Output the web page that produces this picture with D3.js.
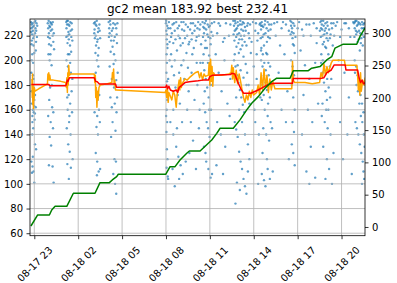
<html>
<head>
<meta charset="utf-8">
<script src="https://d3js.org/d3.v7.min.js"></script>
<style>
  body { margin: 0; background: #fff; }
  text { font-family: "DejaVu Sans", sans-serif; }
</style>
</head>
<body>
<svg id="chart"></svg>
<script>
// hours counted from 08-17 00:00
const xRangeHours = [22.706, 45.604];
const xTickHours = [23, 26, 29, 32, 35, 38, 41, 44];
const leftTicks = [60, 80, 100, 120, 140, 160, 180, 200, 220];
const rightTicks = [0, 50, 100, 150, 200, 250, 300];
const titleText = "gc2 mean 183.92 best 232.41";

// individual scores [hour, score]
const scores = [
  [22.78,231],[22.80,226],[22.82,229],[22.85,221],[22.83,216],[22.88,230],[22.90,224],[22.93,218],[22.95,212],[22.98,228],[23.02,231],[23.05,222],[23.08,226],[23.12,215],[23.15,230],[23.18,219],[22.86,205],[22.92,198],[23.0,206],[23.1,208],[22.8,190],[22.95,185],[23.05,172],[22.84,165],[22.9,160],[22.87,155],[22.96,158],[23.02,152],[23.1,162],[22.82,175],[23.0,168],[22.93,145],[22.86,140],[23.05,132],[22.9,122],[22.8,118],[22.95,110],[22.88,114],[23.0,101],[22.84,109],[23.12,128],
  [22.79,223],[22.81,213],[22.89,227],[22.97,220],[23.07,232],[23.13,224],[23.2,228],[22.83,200],[22.91,188],[22.99,163],[23.04,157],[22.87,150],[22.94,170],
  [23.92,230],[23.95,226],[23.98,232],[24.0,222],[24.03,228],[24.06,218],[24.1,231],[24.12,224],[24.15,212],[24.2,229],[24.25,220],[24.3,215],[24.35,209],[23.97,205],[24.05,200],[24.18,196],[24.08,178],[24.02,168],[24.22,162],[23.95,155],[24.12,150],[24.28,145],[24.05,138],[24.15,131],[24.0,115],[24.25,114],[24.32,101],
  [23.94,219],[24.01,213],[24.08,227],[24.14,230],[24.22,225],[24.27,231],[24.33,222],[24.1,205],[24.2,180],[24.3,158],
  [25.18,231],[25.2,226],[25.24,229],[25.28,220],[25.3,232],[25.33,223],[25.36,217],[25.4,228],[25.44,212],[25.48,224],[25.52,207],[25.55,230],[25.6,216],[25.2,200],[25.3,195],[25.4,205],[25.5,190],[25.25,185],[25.35,172],[25.45,165],[25.28,160],[25.58,158],[25.38,150],[25.22,145],[25.48,140],[25.32,132],[25.42,126],[25.26,116],[25.5,113],[25.36,104],[25.62,120],[25.55,175],
  [25.19,219],[25.23,232],[25.27,214],[25.34,229],[25.39,221],[25.46,231],[25.53,219],[25.58,225],[25.3,205],[25.45,198],[25.6,185],[25.25,170],[25.4,155],
  [27.08,230],[27.12,225],[27.15,231],[27.2,220],[27.25,228],[27.3,215],[27.35,223],[27.4,210],[27.45,229],[27.5,218],[27.18,206],[27.28,200],[27.38,195],[27.15,185],[27.22,176],[27.32,168],[27.42,160],[27.12,158],[27.48,150],[27.25,146],[27.35,140],[27.2,125],[27.3,118],[27.4,110],[27.28,107],[27.5,112],
  [27.1,222],[27.14,218],[27.19,229],[27.27,232],[27.33,217],[27.39,226],[27.47,224],[27.22,212],[27.36,204],[27.2,190],[27.44,172],[27.3,155],
  [28.08,231],[28.12,226],[28.15,222],[28.2,229],[28.25,216],[28.3,224],[28.35,211],[28.4,230],[28.45,205],[28.5,219],[28.55,200],[28.6,226],[28.65,214],[28.7,190],[28.15,195],[28.3,185],[28.45,178],[28.2,170],[28.5,165],[28.62,158],[28.35,150],[28.55,143],[28.25,138],[28.48,120],[28.58,118],[28.4,108],[28.52,100],[28.6,92],
  [28.1,219],[28.18,232],[28.28,220],[28.38,226],[28.43,216],[28.53,229],[28.63,221],[28.68,230],[28.22,207],[28.42,197],[28.6,184],[28.3,162],[28.66,170],
  [32.0,230],[32.02,224],[32.05,217],[32.08,228],[32.1,210],[32.04,205],[32.06,198],[32.03,190],[32.07,183],[32.02,175],[32.09,168],[32.05,160],[32.01,155],[32.08,150],[32.03,142],[32.06,128],[32.1,120],[32.04,113],[32.12,106],[32.15,104],
  [32.2,231],[32.3,226],[32.35,219],[32.45,229],[32.5,214],[32.6,224],[32.7,231],[32.75,208],[32.85,220],[32.9,228],[33.0,212],[33.1,225],[33.2,231],[33.3,218],[33.4,206],[33.5,227],[33.6,215],[33.7,230],[33.8,222],[33.9,210],[34.0,228],[34.1,219],[34.2,231],[34.3,225],[34.4,213],
  [32.25,200],[32.4,195],[32.55,188],[32.65,178],[32.8,172],[32.95,165],[33.05,196],[33.25,185],[33.45,160],[33.55,175],[33.75,190],[33.95,168],[34.15,180],[34.35,198],
  [32.3,150],[32.5,140],[32.7,130],[32.85,122],[33.0,115],[33.15,108],[32.6,98],[33.35,118],[33.6,125],[33.85,135],[34.05,112],[34.25,145],[32.45,112],[32.75,145],
  [32.01,232],[32.06,221],[32.09,213],[32.15,226],[32.25,215],[32.4,222],[32.55,230],[32.65,217],[32.8,226],[32.95,218],[33.05,231],[33.15,214],[33.25,224],[33.35,229],[33.45,220],[33.55,213],[33.65,225],[33.75,217],[33.85,230],[33.95,224],[34.05,216],[34.15,226],[34.25,220],[34.35,229],[32.35,205],[32.6,200],[32.9,190],[33.2,200],[33.5,194],[33.8,205],[34.1,198],[32.15,185],[32.5,160],[33.1,150],[33.7,150],[34.3,160],[32.9,104],
  [34.5,231],[34.55,227],[34.6,222],[34.65,230],[34.7,216],[34.75,225],[34.8,210],[34.85,229],[34.9,219],[34.95,204],[35.0,228],[35.05,213],[35.1,223],[34.52,198],[34.62,192],[34.72,185],[34.82,178],[34.92,170],[35.02,196],[35.12,188],[34.58,165],[34.68,158],[34.78,150],[34.88,145],[34.98,138],[35.08,160],[34.6,130],[34.75,118],[34.9,112],[35.05,105],[35.15,108],[34.7,125],
  [34.53,219],[34.63,226],[34.73,232],[34.83,221],[34.93,227],[35.03,218],[35.13,230],[34.57,205],[34.67,210],[34.87,198],[35.07,180],[34.65,175],[34.95,160],
  [35.3,231],[35.5,222],[35.7,228],[35.9,215],[36.1,230],[36.3,220],[35.4,205],[35.6,190],[35.8,175],[36.0,200],[36.2,165],[36.4,185],[35.5,150],[35.75,140],[36.05,130],[36.35,155],[35.45,115],[35.9,108],
  [35.2,220],[35.6,230],[36.0,218],[36.4,229],
  [36.6,232],[36.65,228],[36.7,224],[36.75,230],[36.8,219],[36.85,226],[36.9,231],[36.95,214],[37.0,222],[37.05,229],[37.1,209],[37.15,225],[37.2,217],[37.25,231],[37.3,203],[37.35,220],[37.4,227],[37.5,212],[37.6,230],[37.7,218],[37.8,206],
  [36.62,221],[36.68,216],[36.72,232],[36.78,225],[36.82,211],[36.88,221],[36.92,228],[36.98,206],[37.02,217],[37.08,232],[37.12,220],[37.18,229],[37.22,212],[37.28,224],[37.32,230],[37.38,215],[37.45,224],[37.55,228],[37.65,222],[37.75,229],[37.85,215],
  [36.65,200],[36.75,195],[36.85,188],[36.95,182],[37.05,176],[37.15,170],[37.25,164],[37.35,158],[37.45,197],[37.55,190],[37.65,180],[37.75,172],
  [36.7,205],[36.9,196],[37.1,192],[37.3,186],[37.5,180],[37.7,165],[36.8,170],[37.0,160],[37.2,150],[37.4,140],[37.6,132],
  [36.7,150],[36.8,144],[36.9,138],[37.0,126],[37.1,118],[37.2,112],[37.3,104],[37.4,98],[37.5,92],[36.75,84],[37.6,110],[37.7,120],[36.85,101],[37.05,95],
  [37.95,231],[38.1,224],[38.25,216],[38.4,229],[38.5,208],[38.0,195],[38.2,185],[38.45,170],[38.1,150],[38.35,140],[38.3,100],[38.05,160],
  [38.15,230],[38.3,222],[38.5,228],[38.2,205],
  [38.45,230],[38.5,225],[38.55,231],[38.6,219],[38.65,227],[38.7,212],[38.75,229],[38.8,222],[38.85,206],[38.9,215],[38.95,231],[39.0,224],[39.1,218],[39.2,229],
  [38.48,218],[38.58,228],[38.68,221],[38.78,232],[38.88,226],[38.98,219],[39.05,229],[39.15,225],[38.52,210],[38.62,205],[38.72,198],[38.82,192],[38.92,205],[39.02,188],[39.12,195],[38.58,180],[38.68,172],[38.98,165],
  [38.5,200],[38.6,195],[38.7,188],[38.8,182],[38.9,176],[39.0,198],[39.1,170],[38.55,168],[38.75,160],[38.95,155],[39.15,150],[38.65,145],[38.85,140],[39.05,135],[38.6,125],[38.9,120],[39.25,145],
  [38.55,108],[38.7,103],[38.8,98],[38.95,112],[39.1,104],[39.3,110],
  [39.6,231],[39.9,226],[40.2,229],[39.8,212],[40.1,205],[39.7,190],[40.3,175],[39.9,160],[40.2,150],[40.4,120],
  [39.4,230],[39.5,220],[40.0,231],[40.4,224],
  [40.5,232],[40.55,228],[40.6,223],[40.65,218],[40.7,230],[40.75,212],[40.8,206],[40.55,200],[40.65,195],[40.75,188],[40.6,180],[40.7,170],[40.8,160],[40.65,150],[40.75,142],[40.6,132],[40.7,125],[40.8,115],
  [40.52,221],[40.58,231],[40.62,226],[40.68,213],[40.72,222],[40.78,228],[40.85,219],
  [41.1,231],[41.3,225],[41.6,229],[41.9,220],[42.1,230],[42.3,214],[41.2,208],[41.5,196],[41.8,185],[42.2,198],[41.4,172],[41.7,160],[42.0,150],[41.3,140],[41.9,130],[42.4,165],[41.6,110],[42.2,105],[41.8,100],
  [41.0,226],[41.4,220],[41.8,229],[42.3,226],
  [42.55,231],[42.6,226],[42.65,229],[42.7,220],[42.75,232],[42.8,215],[42.85,224],[42.9,230],[42.95,210],[43.0,222],[43.05,228],[43.1,205],[43.2,218],[43.3,230],[43.4,212],
  [42.52,224],[42.58,219],[42.62,232],[42.68,225],[42.72,213],[42.78,228],[42.82,221],[42.88,211],[42.92,226],[42.98,218],[43.02,231],[43.08,216],[43.15,225],[43.25,221],[43.35,226],[43.45,230],
  [42.6,198],[42.7,190],[42.8,182],[42.9,175],[43.0,168],[43.1,160],[43.2,195],[43.3,185],[42.65,155],[42.85,150],[43.05,145],[43.25,140],[42.75,130],[43.0,120],[43.15,112],[42.9,104],[43.35,100],[43.45,125],
  [42.62,205],[42.72,200],[42.82,195],[42.92,190],[43.02,185],[43.12,178],[43.22,170],[42.7,165],[42.95,160],
  [43.7,231],[44.0,225],[44.3,230],[44.6,219],[43.8,200],[44.2,190],[44.5,170],[43.9,150],[44.4,140],[44.1,120],[44.7,108],
  [43.5,220],[43.6,228],[43.9,219],[44.2,230],[44.5,226],[44.8,231],
  [44.85,230],[44.9,226],[44.95,232],[45.0,221],[45.05,228],[45.1,215],[45.15,231],[45.2,224],[45.25,208],[45.3,229],[45.35,218],[45.4,231],[45.45,212],[45.5,226],[45.55,230],
  [44.88,219],[44.92,231],[44.98,224],[45.02,232],[45.08,223],[45.12,229],[45.18,217],[45.22,230],[45.28,222],[45.32,214],[45.38,226],[45.42,221],[45.48,229],[45.52,219],[45.58,226],
  [44.9,200],[45.0,195],[45.1,188],[45.2,180],[45.3,172],[45.4,165],[45.5,158],[44.95,150],[45.05,145],[45.15,140],[45.25,132],[45.35,125],[45.45,118],[45.5,110],[45.55,104],[45.4,100],
  [44.92,190],[45.02,180],[45.12,175],[45.22,165],[45.32,155],[45.42,150],[45.52,140],[45.58,130]
];

// rolling average (orange)
const rolling = [
  [22.84,185],[22.86,170],[22.88,189],[22.9,164],[22.92,180],[22.94,161],[22.96,176],[22.98,168],[23.0,178],[23.05,175],[23.3,177],[23.6,179],[23.9,181],[23.93,189],[23.96,186],[23.99,190],[24.02,184],[24.06,188],[24.1,184],[24.3,184],[24.8,183],[25.15,182],[25.2,178],[25.23,186],[25.26,174],[25.29,190],[25.32,180],[25.35,196],[25.4,188],[25.5,189],[26.5,189],[27.1,189],[27.14,182],[27.17,188],[27.2,170],[27.24,178],[27.28,162],[27.32,175],[27.36,168],[27.42,178],[27.5,180],[28.0,181],[28.3,182],[28.34,190],[28.38,186],[28.42,193],[28.46,180],[28.5,184],[28.55,176],[28.6,176],[31.95,174],
  [32.0,176],[32.05,170],[32.1,178],[32.15,166],[32.2,174],[32.3,171],[32.4,168],[32.5,175],[32.6,172],[32.7,162],[32.75,170],[32.8,176],[32.9,184],[32.95,176],[33.0,186],[33.05,178],[33.1,181],[33.2,183],[33.3,185],[33.45,184],[33.6,186],[33.8,188],[34.0,190],[34.2,191],
  [34.3,186],[34.4,190],[34.5,184],[34.6,189],[34.7,187],[34.9,188],[34.95,198],[35.0,180],[35.05,201],[35.1,183],[35.15,195],[35.2,179],[35.25,190],[35.35,188],[35.8,188],[36.3,189],[36.45,190],[36.5,196],[36.55,185],[36.6,194],[36.7,182],[36.8,192],[36.9,181],[37.0,189],[37.1,183],[37.2,176],[37.3,170],[37.4,166],[37.5,172],[37.6,168],[37.7,175],[37.8,170],[37.9,176],[38.0,172],[38.2,174],[38.3,180],[38.4,172],[38.5,190],[38.6,176],[38.7,193],[38.8,178],[38.9,188],[39.0,174],[39.1,185],[39.2,176],[39.3,183],[39.45,177],[40.6,177],[40.65,199],[40.7,184],[40.8,182],[41.5,182],[42.0,181],[42.5,182],[42.6,190],[42.7,186],[42.8,197],[42.9,188],[43.0,195],[43.1,190],[43.3,198],[43.4,200],[44.2,200],[44.25,196],[45.05,196],[45.1,188],[45.15,176],[45.2,186],[45.25,172],[45.3,190],[45.35,175],[45.45,184],[45.55,180],[45.62,186]
];

// running mean (red)
const runningMean = [
  [22.8,180.5],[24.0,180.5],[24.05,179.4],[25.15,179.4],[25.2,181],[25.25,184],[25.3,183],[25.4,186],[27.1,186],[27.2,183],[27.3,182.7],[27.45,180.9],[28.55,180.9],[28.62,178.2],[31.98,178.2],[32.05,180],[32.1,177],[32.2,179],[32.3,176],[32.5,175],[32.7,176],[32.8,174],[32.9,178],[33.1,180],[33.3,182],[33.6,182.7],[34.2,183.5],[34.5,184],[34.9,184],[35.0,186.8],[35.2,188],[36.4,188.5],[36.5,189.5],[36.7,189],[36.8,186],[36.9,182.7],[37.0,180],[37.1,177.4],[37.3,173.4],[37.8,173.4],[38.3,176],[38.6,178],[38.9,180],[39.2,181],[39.45,181.4],[40.65,181.4],[40.7,185.4],[42.6,185.4],[42.8,186],[43.0,190],[43.3,192.2],[43.5,196.3],[44.25,196.3],[44.3,192.2],[45.1,192.2],[45.2,186],[45.3,182],[45.4,184],[45.5,181],[45.62,182]
];

// cumulative count (green, right axis)
const cumulative = [
  [22.77,1.5],[23.23,18.6],[24.03,18.6],[24.19,26.3],[24.42,32],[25.22,32],[25.67,52.2],[27.15,52.2],[27.49,68.6],[28.13,68.6],[28.33,72.8],[28.63,77.9],[28.74,81.6],[31.98,81.6],[32.28,93.4],[32.62,93.4],[32.96,103.8],[33.42,114.1],[33.6,117.7],[34.33,117.7],[35.13,134.7],[35.47,145],[35.7,152.9],[36.6,152.9],[37.06,165.8],[37.52,181.3],[37.86,191.6],[38.31,201.8],[38.77,214.8],[39.23,225],[39.57,230.3],[40.48,230.3],[40.7,242],[41.73,242],[41.96,245.8],[42.53,248.3],[42.99,258.6],[43.33,263.7],[43.55,276.8],[44.12,283],[45.04,283],[45.26,295],[45.6,307.7]
];

const width = 397, height = 283;
const plotLeft = 30, plotRight = 365, plotTop = 19, plotBottom = 235.7;

const base = new Date(2023, 7, 17).getTime();
const toDate = h => new Date(base + h * 3600000);

const svg = d3.select("#chart").attr("width", width).attr("height", height);

const x = d3.scaleTime().domain(xRangeHours.map(toDate)).range([plotLeft, plotRight]);
const yL = d3.scaleLinear().domain([58, 233.5]).range([plotBottom, plotTop]);
const yR = d3.scaleLinear().domain([-13.5, 322]).range([plotBottom, plotTop]);

svg.append("defs").append("clipPath").attr("id", "clip")
  .append("rect").attr("x", plotLeft).attr("y", plotTop)
  .attr("width", plotRight - plotLeft).attr("height", plotBottom - plotTop);

// scatter
svg.append("g").attr("clip-path", "url(#clip)")
  .selectAll("circle").data(scores).join("circle")
  .attr("cx", d => x(toDate(d[0])))
  .attr("cy", d => yL(d[1]))
  .attr("r", 1.2)
  .attr("fill", "#1f77b4")
  .attr("opacity", 0.7);

// grid
const grid = svg.append("g").attr("stroke", "#b0b0b0").attr("stroke-width", 0.8);
grid.selectAll(".gx").data(xTickHours).join("line")
  .attr("x1", d => x(toDate(d))).attr("x2", d => x(toDate(d)))
  .attr("y1", plotTop).attr("y2", plotBottom);
grid.selectAll(".gy").data(leftTicks).join("line")
  .attr("x1", plotLeft).attr("x2", plotRight)
  .attr("y1", d => yL(d)).attr("y2", d => yL(d));

const lineL = d3.line().x(d => x(toDate(d[0]))).y(d => yL(d[1]));
const lineR = d3.line().x(d => x(toDate(d[0]))).y(d => yR(d[1]));

const plot = svg.append("g").attr("clip-path", "url(#clip)").attr("fill", "none")
  .attr("stroke-width", 1.5).attr("stroke-linejoin", "round");
plot.append("path").attr("d", lineL(rolling)).attr("stroke", "orange");
plot.append("path").attr("d", lineL(runningMean)).attr("stroke", "red");
plot.append("path").attr("d", lineR(cumulative)).attr("stroke", "green");

// axes
function style(g) {
  g.select(".domain").remove();
  g.selectAll(".tick line").attr("stroke", "#000").attr("stroke-width", 0.8);
  g.selectAll(".tick text").attr("font-size", 10).attr("font-family", "DejaVu Sans").attr("fill", "#000");
}

svg.append("g").attr("transform", `translate(${plotLeft},0)`)
  .call(d3.axisLeft(yL).tickValues(leftTicks).tickSize(3.5).tickPadding(3.5))
  .call(style);

svg.append("g").attr("transform", `translate(${plotRight},0)`)
  .call(d3.axisRight(yR).tickValues(rightTicks).tickSize(3.5).tickPadding(3.5))
  .call(style);

const fmt = d3.timeFormat("%m-%d %H");
const xg = svg.append("g").attr("transform", `translate(0,${plotBottom})`)
  .call(d3.axisBottom(x).tickValues(xTickHours.map(toDate)).tickSize(3.5).tickFormat(fmt))
  .call(style);
xg.selectAll(".tick text")
  .attr("y", 0).attr("dy", null)
  .attr("text-anchor", "middle")
  .attr("dominant-baseline", "central")
  .attr("transform", "translate(0,28.5) rotate(-45)");

// frame
svg.append("rect").attr("x", plotLeft).attr("y", plotTop)
  .attr("width", plotRight - plotLeft).attr("height", plotBottom - plotTop)
  .attr("fill", "none").attr("stroke", "#000").attr("stroke-width", 0.8);

svg.append("text").attr("x", (plotLeft + plotRight) / 2).attr("y", 13)
  .attr("text-anchor", "middle").attr("font-size", 12).attr("fill", "#000")
  .text(titleText);
</script>
</body>
</html>
